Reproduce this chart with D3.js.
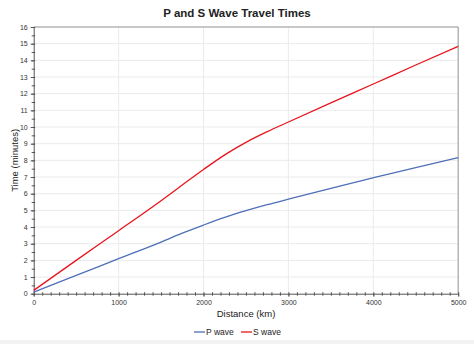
<!DOCTYPE html>
<html><head><meta charset="utf-8">
<script src="https://cdn.jsdelivr.net/npm/d3@7"></script>
<style>body{margin:0;background:#fff}svg{display:block;font-family:Arial,"Liberation Sans",sans-serif}</style>
</head><body><svg id="c" width="474" height="344"></svg>
<script>
const distances = [0, 500, 1000, 1500, 1750, 2000, 2250, 2500, 2750, 3000, 3500, 4000, 4500, 5000];
const pWave = [0.1, 1.1, 2.1, 3.1, 3.63, 4.12, 4.58, 4.98, 5.34, 5.67, 6.32, 6.95, 7.57, 8.17];
const sWave = [0.2, 2.0, 3.78, 5.58, 6.52, 7.45, 8.33, 9.08, 9.72, 10.3, 11.45, 12.58, 13.72, 14.84];
const xTicks = [0, 1000, 2000, 3000, 4000, 5000];
const yTicks = d3.range(0, 17);
const seriesNames = ["P wave", "S wave"];
const seriesColors = ["#4f6fb8", "#e8141e"];

const svg = d3.select("#c");
const W = 474, H = 344;
const m = {l: 33.7, r: 474 - 458.2, t: 27, b: 344 - 293.7};
const x = d3.scaleLinear().domain([0, 5000]).range([m.l, W - m.r]);
const y = d3.scaleLinear().domain([0, 16]).range([H - m.b, m.t]);
const fmt = d3.format("d");

svg.append("rect").attr("x", 0).attr("y", 340).attr("width", W).attr("height", 4).attr("fill", "#f2f2f2");

// grid
svg.append("g").selectAll("line").data(yTicks.slice(1)).join("line")
  .attr("x1", x(0)).attr("x2", x(5000)).attr("y1", d => y(d)).attr("y2", d => y(d))
  .attr("stroke", "#ebebeb").attr("stroke-width", 1);
svg.append("g").selectAll("line").data(xTicks.slice(1)).join("line")
  .attr("y1", y(0)).attr("y2", y(16)).attr("x1", d => x(d)).attr("x2", d => x(d))
  .attr("stroke", "#ebebeb").attr("stroke-width", 1);

// border top/right
svg.append("line").attr("x1", x(0)).attr("x2", x(5000)).attr("y1", y(16)).attr("y2", y(16)).attr("stroke", "#999");
svg.append("line").attr("x1", x(5000)).attr("x2", x(5000)).attr("y1", y(16)).attr("y2", y(0)).attr("stroke", "#999");

// minor ticks
svg.append("g").attr("transform", `translate(0,${y(0)})`)
  .call(d3.axisBottom(x).tickValues(d3.range(0, 5001, 100)).tickSize(2).tickFormat(""))
  .call(g => g.select(".domain").remove())
  .call(g => g.selectAll("line").attr("stroke", "#555").attr("y1", -1.5));
svg.append("g").attr("transform", `translate(${x(0)},0)`)
  .call(d3.axisLeft(y).tickValues(d3.range(0, 16.01, 0.5)).tickSize(2).tickFormat(""))
  .call(g => g.select(".domain").remove())
  .call(g => g.selectAll("line").attr("stroke", "#555").attr("x1", 1.5));

// major axes
const xa = svg.append("g").attr("transform", `translate(0,${y(0)})`)
  .call(d3.axisBottom(x).tickValues(xTicks).tickFormat(fmt).tickSize(3).tickPadding(3).tickSizeOuter(0));
xa.select(".domain").attr("stroke", "#555");
xa.selectAll("line").attr("stroke", "#555");
xa.selectAll("text").attr("font-size", 7).attr("fill", "#333").attr("font-family", "Arial, 'Liberation Sans', sans-serif");
const ya = svg.append("g").attr("transform", `translate(${x(0)},0)`)
  .call(d3.axisLeft(y).tickValues(yTicks).tickFormat(fmt).tickSize(3).tickPadding(3).tickSizeOuter(0));
ya.select(".domain").attr("stroke", "#555");
ya.selectAll("line").attr("stroke", "#555");
ya.selectAll("text").attr("font-size", 7).attr("fill", "#333").attr("font-family", "Arial, 'Liberation Sans', sans-serif");

// lines
const line = d3.line().x((d, i) => x(distances[i])).y(d => y(d)).curve(d3.curveMonotoneX);
[pWave, sWave].forEach((s, k) => {
  svg.append("path").attr("d", line(s)).attr("fill", "none")
    .attr("stroke", seriesColors[k]).attr("stroke-width", 1.3);
});

// titles
svg.append("text").attr("x", 237).attr("y", 17.3).attr("text-anchor", "middle")
  .attr("font-size", 11.5).attr("font-weight", "bold").attr("fill", "#222").text("P and S Wave Travel Times");
svg.append("text").attr("x", 246).attr("y", 317).attr("text-anchor", "middle")
  .attr("font-size", 9.5).attr("fill", "#222").text("Distance (km)");
svg.append("text").attr("transform", `translate(18,${(y(0) + y(16)) / 2}) rotate(-90)`).attr("text-anchor", "middle")
  .attr("font-size", 9.5).attr("fill", "#222").text("Time (minutes)");

// legend
const lg = svg.append("g");
const legendX = [194, 241];
seriesNames.forEach((n, k) => {
  lg.append("line").attr("x1", legendX[k]).attr("x2", legendX[k] + 11).attr("y1", 332).attr("y2", 332)
    .attr("stroke", seriesColors[k]).attr("stroke-width", 1.3);
  lg.append("text").attr("x", legendX[k] + 12).attr("y", 335).attr("font-size", 8.5).attr("fill", "#222").text(n);
});
</script></body></html>
